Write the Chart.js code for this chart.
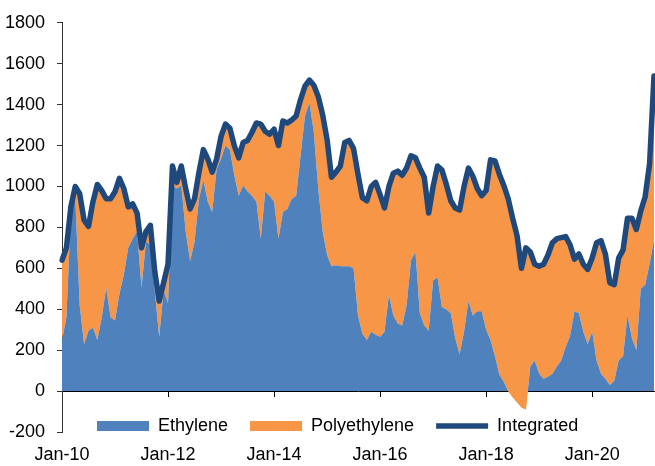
<!DOCTYPE html>
<html>
<head>
<meta charset="utf-8">
<script src="https://cdn.jsdelivr.net/npm/chart.js@4/dist/chart.umd.min.js"></script>
<style>
  html, body { margin: 0; padding: 0; background: #fff; }
  #wrap { width: 655px; height: 466px; }
</style>
</head>
<body>
<div id="wrap"><canvas id="c" width="655" height="466"></canvas></div>
<script>
// Monthly categories Jan-10 .. Mar-21
const monthNames = ['Jan','Feb','Mar','Apr','May','Jun','Jul','Aug','Sep','Oct','Nov','Dec'];
const categories = [];
for (let k = 0; k < 135; k++) {
  const yr = 10 + Math.floor(k / 12);
  categories.push(monthNames[k % 12] + '-' + String(yr).padStart(2, '0'));
}
const tickLabels = ['Jan-10','Jan-12','Jan-14','Jan-16','Jan-18','Jan-20'];

const ethylene = [
  250,360,860,950,420,230,295,310,250,360,505,360,
  345,475,570,700,745,780,505,730,715,490,265,490,
  430,1005,990,1005,780,635,730,940,1030,925,875,1085,
  1135,1200,1180,1055,955,1005,975,955,925,745,975,955,
  925,745,875,890,940,955,1150,1345,1410,1265,990,780,
  665,610,615,610,610,610,600,370,280,250,290,275,
  265,290,470,370,330,320,420,640,680,380,320,295,
  540,555,410,400,380,260,180,290,440,370,390,390,
  300,250,170,80,45,0,-30,-55,-80,-90,120,150,
  85,60,70,85,120,150,215,270,390,380,290,230,
  290,150,85,60,30,50,150,170,370,260,200,500,
  520,620,740
];
const polyethylene = [
  390,340,40,50,545,605,510,615,760,620,435,580,
  630,565,420,200,170,90,195,50,95,95,175,40,
  190,95,30,95,210,255,210,130,150,210,195,50,
  110,105,105,145,185,210,250,310,385,560,295,300,
  355,455,445,420,385,390,275,145,110,230,450,570,
  565,435,455,490,605,615,585,690,665,680,710,745,
  695,605,530,695,745,735,670,510,460,710,725,575,
  460,545,670,610,550,635,705,710,650,680,600,565,
  680,880,955,980,960,940,875,815,680,790,560,470,
  525,560,595,640,625,600,540,445,255,290,330,365,
  360,575,650,610,500,470,500,520,475,585,590,380,
  430,490,800
];
const integrated = [
  640,700,900,1000,965,835,805,925,1010,980,940,940,
  975,1040,990,900,915,870,700,780,810,585,440,530,
  620,1100,1020,1100,990,890,940,1070,1180,1135,1070,1135,
  1245,1305,1285,1200,1140,1215,1225,1265,1310,1305,1270,1255,
  1280,1200,1320,1310,1325,1345,1425,1490,1520,1495,1440,1350,
  1230,1045,1070,1100,1215,1225,1185,1060,945,930,1000,1020,
  960,895,1000,1065,1075,1055,1090,1150,1140,1090,1045,870,
  1000,1100,1080,1010,930,895,885,1000,1090,1050,990,955,
  980,1130,1125,1060,1005,940,845,760,600,700,680,620,
  610,620,665,725,745,750,755,715,645,670,620,595,
  650,725,735,670,530,520,650,690,845,845,790,880,
  950,1110,1540
];

const BLUE = '#4F81BD', ORANGE = '#F79646', NAVY = '#1F497D';
const FONT = 'Arial, "Liberation Sans", sans-serif';
Chart.defaults.font.family = FONT;
Chart.defaults.font.size = 18;
Chart.defaults.color = '#000';

const LEGEND_BOX_X = 97;   // left of first legend box
const LEGEND_TOP = 395;

const legendMover = {
  id: 'legendMover',
  afterLayout(chart) {
    const lg = chart.legend;
    if (!lg || !lg.lineWidths) return;
    const pad = lg.options.labels.padding;
    const firstX = (lg.left + pad + lg.right - lg.lineWidths[0]) / 2;
    const dx = LEGEND_BOX_X - firstX;
    lg.left += dx; lg.right += dx;
    lg.top = LEGEND_TOP; lg.bottom = LEGEND_TOP + 45;
  }
};

const isMajor = (i) => tickLabels.includes(categories[i]);

new Chart(document.getElementById('c'), {
  type: 'line',
  data: {
    labels: categories,
    datasets: [
      {
        label: 'Ethylene',
        data: ethylene,
        backgroundColor: BLUE,
        borderColor: BLUE,
        borderWidth: 0,
        pointRadius: 0,
        pointStyle: 'rect',
        tension: 0,
        fill: { target: 'origin', above: BLUE, below: ORANGE },
        stack: 'area'
      },
      {
        label: 'Polyethylene',
        data: polyethylene,
        backgroundColor: ORANGE,
        borderColor: ORANGE,
        borderWidth: 0,
        pointRadius: 0,
        pointStyle: 'rect',
        tension: 0,
        fill: '-1',
        stack: 'area'
      },
      {
        label: 'Integrated',
        data: integrated,
        backgroundColor: NAVY,
        borderColor: NAVY,
        borderWidth: 5.5,
        borderCapStyle: 'round',
        borderJoinStyle: 'round',
        pointRadius: 0,
        pointStyle: 'line',
        tension: 0,
        fill: false,
        stack: 'line'
      }
    ]
  },
  options: {
    responsive: false,
    animation: false,
    devicePixelRatio: 1,
    layout: { padding: { left: 5, top: 19, right: 1, bottom: 0 } },
    plugins: {
      tooltip: { enabled: false },
      filler: { drawTime: 'beforeDatasetsDraw' },
      legend: {
        position: 'bottom',
        maxHeight: 1,
        labels: {
          usePointStyle: true,
          pointStyleWidth: 52,
          boxHeight: 10,
          padding: 22,
          color: '#000',
          font: { size: 18, family: FONT }
        }
      }
    },
    scales: {
      x: {
        type: 'category',
        position: 'bottom',
        grid: { display: false, drawTicks: false },
        border: { display: false },
        afterFit: (s) => { s.height = 33; },
        ticks: {
          autoSkip: false,
          maxRotation: 0,
          minRotation: 0,
          padding: 14,
          color: '#000',
          font: { size: 18, lineHeight: 1 },
          callback: function (v, i) { return isMajor(i) ? categories[i] : null; }
        }
      },
      x2: {
        type: 'category',
        axis: 'x',
        position: { y: 0 },
        z: 1,
        afterFit: (s) => { s.height = 0; },
        grid: {
          drawOnChartArea: false,
          drawTicks: true,
          tickLength: 5,
          color: (ctx) => isMajor(ctx.index) ? '#000' : 'rgba(0,0,0,0)'
        },
        border: { display: true, color: '#000', width: 1 },
        ticks: { display: false, autoSkip: false }
      },
      y: {
        stacked: 'single',
        min: -200,
        max: 1800,
        afterFit: (s) => { s.width = 57; },
        ticks: {
          stepSize: 200, padding: 12, color: '#000', font: { size: 18 },
          callback: (v) => String(v)
        },
        grid: { drawOnChartArea: false, drawTicks: true, tickLength: 5, color: '#333' },
        border: { display: true, color: '#333', width: 1 }
      }
    }
  },
  plugins: [legendMover]
});
</script>
</body>
</html>
